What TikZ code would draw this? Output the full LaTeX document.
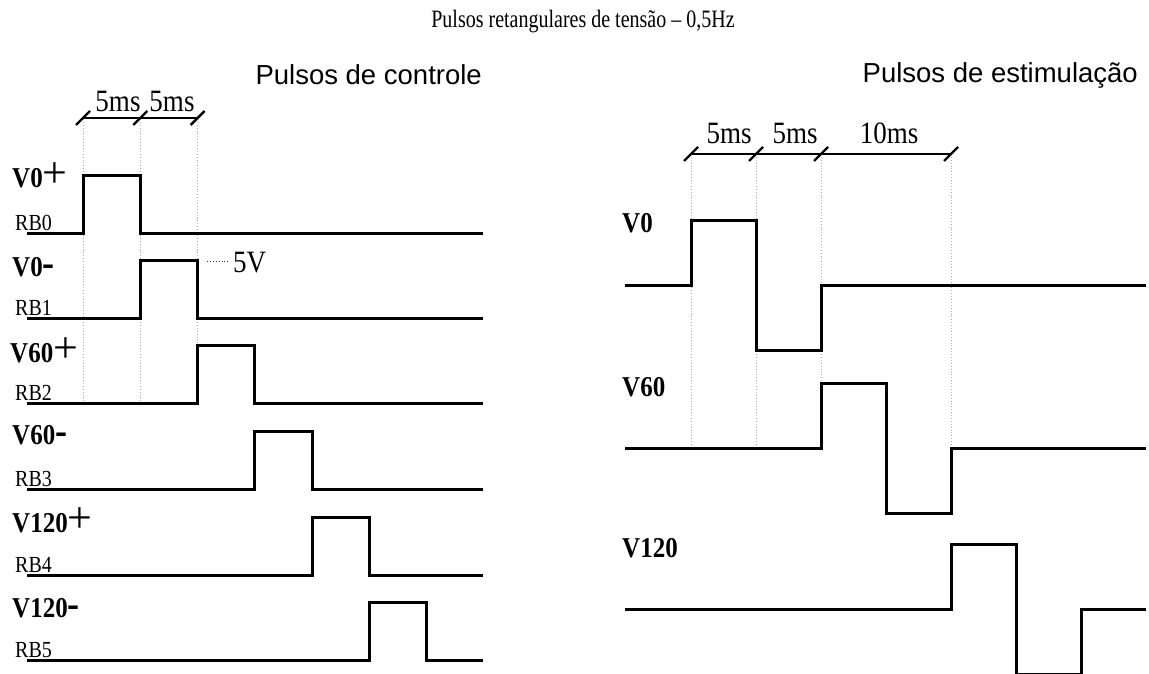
\documentclass[tikz,border=0pt]{standalone}
\usepackage{fontspec}
\setmainfont{Liberation Serif}
\setsansfont{Liberation Sans}
\newcommand{\tallsc}[1]{\scalebox{1}[1.15]{#1}}
\newcommand{\plussgn}{{\fontsize{44}{44}\selectfont\mdseries+}}
\newcommand{\minussgn}{{\fontsize{36}{36}\selectfont-}}
\begin{document}
\begin{tikzpicture}[
    x=1pt, y=-1pt,
    wave/.style={line width=3pt, line join=miter},
    guide/.style={dotted, draw=gray!65, line width=0.9pt},
    dimline/.style={line width=2.4pt},
    vlbl/.style={font=\fontsize{25}{30}\selectfont\bfseries, anchor=base west, inner sep=0pt},
    rblbl/.style={font=\fontsize{20}{24}\selectfont, anchor=base west, inner sep=0pt},
    mslbl/.style={font=\fontsize{27}{30}\selectfont, anchor=base, inner sep=0pt},
    head/.style={font=\sffamily\fontsize{27.5}{30}\selectfont, anchor=base east, inner sep=0pt}
]
\useasboundingbox (0,0) rectangle (1149,674);

% titles
\node[font=\fontsize{20}{25}\selectfont, anchor=base, inner sep=0pt] (title) at (583,28)
    {\scalebox{1}[1.25]{Pulsos retangulares de tensão -- 0,5Hz}};
\node[head] (ctrl) at (482,85) {Pulsos de controle};
\node[head] (estim) at (1138,83) {Pulsos de estimulação};

% guides, control pulses
\draw[guide] (83,119) -- (83,403);
\draw[guide] (140.3,119) -- (140.3,403);
\draw[guide] (197.6,119) -- (197.6,403);

% guides, stimulation pulses
\draw[guide] (691,154) -- (691,448);
\draw[guide] (756,154) -- (756,448);
\draw[guide] (821,154) -- (821,448);
\draw[guide] (951,154) -- (951,448);

% time marks, control pulses
\draw[dimline] (83,118) -- (197.6,118);
\draw[dimline] (76,125) -- (90,111);
\draw[dimline] (133.3,125) -- (147.3,111);
\draw[dimline] (190.6,125) -- (204.6,111);
\node[mslbl] (c5a) at (118,112) {\tallsc{5ms}};
\node[mslbl] (c5b) at (172,112) {\tallsc{5ms}};

% time marks, stimulation pulses
\draw[dimline] (691,154) -- (951,154);
\draw[dimline] (684,161) -- (698,147);
\draw[dimline] (749,161) -- (763,147);
\draw[dimline] (814,161) -- (828,147);
\draw[dimline] (944,161) -- (958,147);
\node[mslbl] (s5a) at (729,144) {\tallsc{5ms}};
\node[mslbl] (s5b) at (795,144) {\tallsc{5ms}};
\node[mslbl] (s10) at (889,144) {\tallsc{10ms}};

% control pulses
\draw[wave] (27,233) -- (83,233) -- (83,175.5) -- (140.3,175.5) -- (140.3,233) -- (483,233);
\draw[wave] (27,318) -- (140.3,318) -- (140.3,260.5) -- (197.6,260.5) -- (197.6,318) -- (483,318);
\draw[wave] (27,403) -- (197.6,403) -- (197.6,345.5) -- (254.9,345.5) -- (254.9,403) -- (483,403);
\draw[wave] (27,489) -- (254.9,489) -- (254.9,431.5) -- (312.2,431.5) -- (312.2,489) -- (483,489);
\draw[wave] (27,575) -- (312.2,575) -- (312.2,517.5) -- (369.5,517.5) -- (369.5,575) -- (483,575);
\draw[wave] (27,660) -- (369.5,660) -- (369.5,602.5) -- (426.8,602.5) -- (426.8,660) -- (483,660);

\node[vlbl] (v0p) at (12,188) {\tallsc{V0}\plussgn};
\node[vlbl] (v0m) at (12,276) {\tallsc{V0\minussgn}};
\node[vlbl] (v60p) at (10,362) {\tallsc{V60}\plussgn};
\node[vlbl] (v60m) at (12,444) {\tallsc{V60\minussgn}};
\node[vlbl] (v120p) at (12,532) {\tallsc{V120}\plussgn};
\node[vlbl] (v120m) at (12,617) {\tallsc{V120\minussgn}};

\node[rblbl] (rb0) at (15,230) {\tallsc{RB0}};
\node[rblbl] (rb1) at (15,315) {\tallsc{RB1}};
\node[rblbl] (rb2) at (15,400) {\tallsc{RB2}};
\node[rblbl] (rb3) at (15,486) {\tallsc{RB3}};
\node[rblbl] (rb4) at (15,572) {\tallsc{RB4}};
\node[rblbl] (rb5) at (15,657) {\tallsc{RB5}};

% level mark
\coordinate (lvl) at (207,261);
\node[font=\fontsize{27}{30}\selectfont, anchor=base west, inner sep=0pt] (five) at (233,272) {\tallsc{5V}};
\draw[guide, draw=black!80] (lvl) -- (229,261);

% stimulation pulses
\draw[wave] (625,285) -- (691,285) -- (691,220) -- (756,220) -- (756,350) -- (821,350) -- (821,285) -- (1146,285);
\draw[wave] (625,448) -- (821,448) -- (821,383) -- (886,383) -- (886,513) -- (951,513) -- (951,448) -- (1146,448);
\draw[wave] (625,609) -- (951,609) -- (951,544) -- (1016,544) -- (1016,674) -- (1081,674) -- (1081,609) -- (1146,609);

\node[vlbl] (s0) at (622,233) {\tallsc{V0}};
\node[vlbl] (s60) at (622,396) {\tallsc{V60}};
\node[vlbl] (s120) at (622,557) {\tallsc{V120}};

\end{tikzpicture}
\end{document}
